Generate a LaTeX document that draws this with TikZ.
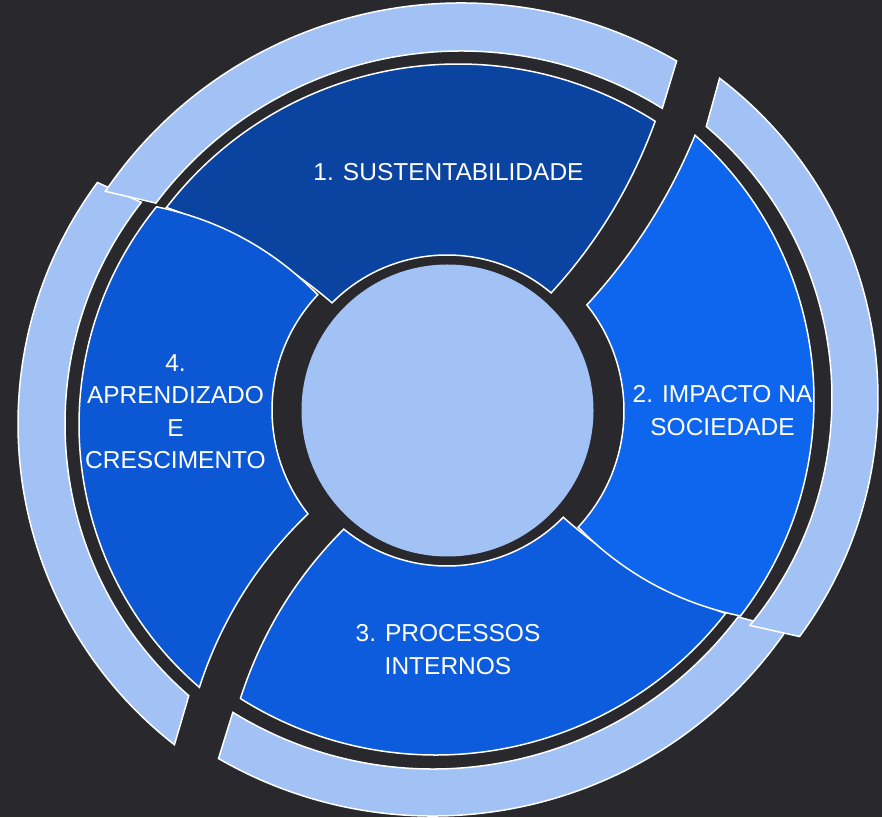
\documentclass[tikz,border=0pt]{standalone}
\usepackage{fontspec}
\setmainfont{Liberation Sans}
\usepackage{tikz}
\usetikzlibrary{calc}
\tikzset{>=stealth}
\definecolor{bgdark}{HTML}{29282D}
\definecolor{ringblue}{HTML}{A2C2F6}
\definecolor{segone}{HTML}{0A44A0}
\definecolor{segtwo}{HTML}{0F66EE}
\definecolor{segthree}{HTML}{0C5CDD}
\definecolor{segfour}{HTML}{0C58D4}

\begin{document}
\begin{tikzpicture}[x=1pt,y=1pt,
        ring/.style={draw=white, line width=1.5pt, fill=ringblue},
        seg/.style={draw=white, line width=1.5pt},
        lbl/.style={text=white, align=center, inner sep=0pt, font=\fontsize{24.5}{32.5}\selectfont}]
        \useasboundingbox (0,0) rectangle (882,817);
        \fill [bgdark] (0,0) rectangle (882,817);
        % centres of the offset pieces
        \coordinate (c1) at (461,384);
        \coordinate (c2) at (476,419);
        \coordinate (c3) at (433,430);
        \coordinate (c4) at (425,393);
        \coordinate (o1) at (458,385);
        \coordinate (o2) at (460,417);
        \coordinate (o3) at (436,429);
        \coordinate (o4) at (425,392);
        \coordinate (i1) at (447,400);
        \coordinate (i2) at (454,406);
        \coordinate (i3) at (447,414);
        \coordinate (i4) at (440,407);
        \coordinate (mid) at (447.5,406.5);
        % corners of the segments
        \coordinate (s1a) at ($(o1)+(142.4:368pt)$);
        \coordinate (s1b) at ($(o1)+(57.6:368pt)$);
        \coordinate (s1c) at ($(i1)+(50:162pt)$);
        \coordinate (s1d) at ($(i1)+(135.2:162pt)$);
        \coordinate (s2a) at ($(o2)+(48.4:354pt)$);
        \coordinate (s2b) at ($(o2)+(-37.6:354pt)$);
        \coordinate (s2c) at ($(i2)+(-43.1:170pt)$);
        \coordinate (s2d) at ($(i2)+(38.6:170pt)$);
        \coordinate (s3a) at ($(o3)+(-37.9:367pt)$);
        \coordinate (s3b) at ($(o3)+(-122.2:367pt)$);
        \coordinate (s3c) at ($(i3)+(-129.3:163pt)$);
        \coordinate (s3d) at ($(i3)+(-44.5:163pt)$);
        \coordinate (s4a) at ($(o4)+(140.9:346pt)$);
        \coordinate (s4b) at ($(o4)+(229.3:346pt)$);
        \coordinate (s4c) at ($(i4)+(218.2:168pt)$);
        \coordinate (s4d) at ($(i4)+(136.7:168pt)$);
        % bend points of the curved sides
        \coordinate (q1r) at (620,599.1);
        \coordinate (q1l) at (258.5,577.1);
        \coordinate (q2l) at (656.2,587.4);
        \coordinate (q2b) at (645.6,220.9);
        \coordinate (q3r) at (635.8,235.4);
        \coordinate (q3l) at (271.6,215.6);
        \coordinate (q4t) at (250.9,590.6);
        \coordinate (q4b) at (232,230.3);
        % outer ring
        \draw [ring] ($(c4)+(232:407pt)$) arc[start angle=232, end angle=143.6, radius=407pt]
              -- ($(c4)+(142:360pt)$) arc[start angle=142, end angle=229, radius=360pt] -- cycle;
        \draw [ring] ($(c1)+(145.8:430pt)$) arc[start angle=145.8, end angle=59.9, radius=430pt]
              -- ($(c1)+(58.2:382pt)$) arc[start angle=58.2, end angle=143, radius=382pt] -- cycle;
        \draw [ring] ($(c3)+(-34.5:429pt)$) arc[start angle=-34.5, end angle=-120, radius=429pt]
              -- ($(c3)+(-121.6:382pt)$) arc[start angle=-121.6, end angle=-37, radius=382pt] -- cycle;
        \draw [ring] ($(c2)+(52.7:402pt)$) arc[start angle=52.7, end angle=-36.4, radius=402pt]
              -- ($(c2)+(-39.7:356pt)$) arc[start angle=-39.7, end angle=49.7, radius=356pt] -- cycle;
        % the four segments
        \draw [seg, fill=segone] (s1a) arc[start angle=142.4, end angle=57.6, radius=368pt]
              .. controls ($(s1b)!2/3!(q1r)$) and ($(s1c)!2/3!(q1r)$) .. (s1c)
              arc[start angle=50, end angle=135.2, radius=162pt]
              .. controls ($(s1d)!2/3!(q1l)$) and ($(s1a)!2/3!(q1l)$) .. (s1a) -- cycle;
        \draw [seg, fill=segthree] (s3a) arc[start angle=-37.9, end angle=-122.2, radius=367pt]
              .. controls ($(s3b)!2/3!(q3l)$) and ($(s3c)!2/3!(q3l)$) .. (s3c)
              arc[start angle=-129.3, end angle=-44.5, radius=163pt]
              .. controls ($(s3d)!2/3!(q3r)$) and ($(s3a)!2/3!(q3r)$) .. (s3a) -- cycle;
        \draw [seg, fill=segfour] (s4a) arc[start angle=140.9, end angle=229.3, radius=346pt]
              .. controls ($(s4b)!2/3!(q4b)$) and ($(s4c)!2/3!(q4b)$) .. (s4c)
              arc[start angle=218.2, end angle=136.7, radius=168pt]
              .. controls ($(s4d)!2/3!(q4t)$) and ($(s4a)!2/3!(q4t)$) .. (s4a) -- cycle;
        \draw [seg, fill=segtwo] (s2a) arc[start angle=48.4, end angle=-37.6, radius=354pt]
              .. controls ($(s2b)!2/3!(q2b)$) and ($(s2c)!2/3!(q2b)$) .. (s2c)
              arc[start angle=-43.1, end angle=38.6, radius=170pt]
              .. controls ($(s2d)!2/3!(q2l)$) and ($(s2a)!2/3!(q2l)$) .. (s2a) -- cycle;
        % hub
        \fill [ringblue] (mid) circle (146pt);
        \node (sust) at (448.5,645) [lbl] {1. SUSTENTABILIDADE};
        \node (impacto) at (722.5,406.5) [lbl] {2. IMPACTO NA\\SOCIEDADE};
        \node (processos) at (448,167.5) [lbl] {3. PROCESSOS\\INTERNOS};
        \node (aprend) at (175.5,405.5) [lbl] {4.\\APRENDIZADO\\E\\CRESCIMENTO};
\end{tikzpicture}
\end{document}
